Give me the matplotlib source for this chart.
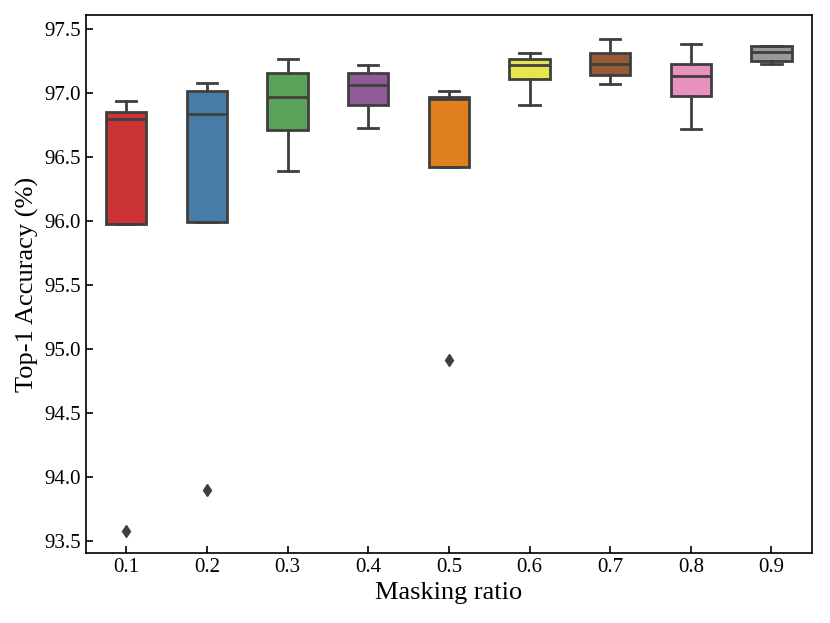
import matplotlib
matplotlib.use("Agg")
import matplotlib.pyplot as plt
import seaborn as sns

ratios = ["0.1", "0.2", "0.3", "0.4", "0.5", "0.6", "0.7", "0.8", "0.9"]
whis_lo = [95.98, 95.99, 96.39, 96.73, 96.42, 96.91, 97.07, 96.72, 97.23]
q1 = [95.98, 95.99, 96.71, 96.91, 96.42, 97.11, 97.14, 96.98, 97.25]
med = [96.80, 96.84, 96.97, 97.06, 96.95, 97.22, 97.23, 97.13, 97.32]
q3 = [96.85, 97.02, 97.16, 97.16, 96.97, 97.27, 97.31, 97.23, 97.37]
whis_hi = [96.94, 97.08, 97.27, 97.22, 97.02, 97.31, 97.42, 97.38, 97.37]
outliers = [[93.58], [93.90], [], [], [94.92], [], [], [], []]

plt.rcParams["font.family"] = ["Liberation Serif", "DejaVu Serif"]

colors = sns.color_palette("Set1", 9, desat=0.75)
edge = "#3f3f3f"

stats = []
for i in range(len(ratios)):
    stats.append({"whislo": whis_lo[i], "q1": q1[i], "med": med[i], "q3": q3[i],
                  "whishi": whis_hi[i], "fliers": outliers[i], "label": ratios[i]})

fig = plt.figure(figsize=(8.3, 6.23), dpi=100)
ax = fig.add_axes([0.1036, 0.1124, 0.8744, 0.8636])

bp = ax.bxp(stats, positions=range(len(ratios)), widths=0.5, patch_artist=True,
            boxprops=dict(edgecolor=edge, linewidth=2),
            medianprops=dict(color=edge, linewidth=2),
            whiskerprops=dict(color=edge, linewidth=2),
            capprops=dict(color=edge, linewidth=2),
            flierprops=dict(marker="d", markerfacecolor=edge, markeredgecolor=edge,
                            markersize=6))
for patch, c in zip(bp["boxes"], colors):
    patch.set_facecolor(c)

ax.set_xlim(-0.5, len(ratios) - 0.5)
ax.set_ylim(93.41, 97.61)
ax.set_yticks([93.5, 94.0, 94.5, 95.0, 95.5, 96.0, 96.5, 97.0, 97.5])
ax.tick_params(direction="in", labelsize=15, length=5, width=1.2)
ax.set_xlabel("Masking ratio", fontsize=19)
ax.set_ylabel("Top-1 Accuracy (%)", fontsize=19)
for s in ax.spines.values():
    s.set_linewidth(1.2)

fig.savefig("out.png", dpi=100)
